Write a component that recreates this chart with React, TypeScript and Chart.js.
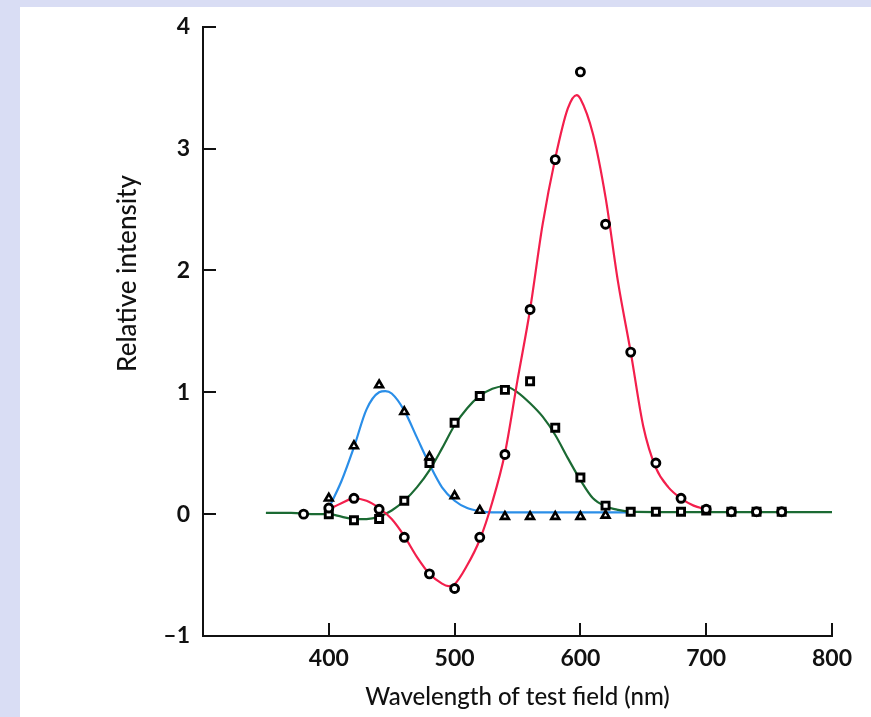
import React, { useEffect, useRef } from 'react';
import { Chart, registerables } from 'chart.js';

Chart.register(...registerables);

// ---- Data ----
// Fitted smooth curves
const CURVE_R_WL = [400, 410, 420, 430, 440, 450, 460, 470, 480, 490, 495, 500, 510, 520, 530, 540, 550, 560, 570, 580, 590, 597, 600, 610, 620, 630, 640, 650, 660, 670, 680, 690, 700];
const CURVE_R = [0.04, 0.09, 0.13, 0.11, 0.05, -0.04, -0.18, -0.35, -0.49, -0.57, -0.59, -0.575, -0.42, -0.21, 0.1, 0.5, 1.1, 1.68, 2.38, 2.92, 3.33, 3.44, 3.41, 3.12, 2.6, 1.9, 1.33, 0.72, 0.38, 0.22, 0.13, 0.07, 0.04];

const CURVE_G_WL = [350, 370, 390, 400, 410, 420, 430, 440, 450, 460, 470, 480, 490, 500, 510, 520, 530, 540, 550, 560, 570, 580, 590, 600, 610, 620, 630, 640, 660, 700, 750, 800];
const CURVE_G = [0.01, 0.01, 0.0, 0.0, -0.02, -0.04, -0.04, -0.02, 0.03, 0.11, 0.22, 0.36, 0.54, 0.73, 0.87, 0.97, 1.03, 1.05, 1.0, 0.91, 0.8, 0.65, 0.46, 0.28, 0.13, 0.065, 0.035, 0.02, 0.017, 0.017, 0.017, 0.017];

const CURVE_B_WL = [400, 410, 420, 430, 440, 445, 450, 460, 470, 480, 490, 500, 510, 520, 530, 550, 600, 640];
const CURVE_B = [0.05, 0.27, 0.55, 0.86, 1.0, 1.01, 0.99, 0.85, 0.63, 0.41, 0.22, 0.11, 0.05, 0.025, 0.015, 0.015, 0.015, 0.015];

// Measured points (markers)
const MARK_WL = [380, 400, 420, 440, 460, 480, 500, 520, 540, 560, 580, 600, 620, 640, 660, 680, 700, 720, 740, 760];
const R_MARK = [0.0, 0.05, 0.13, 0.04, -0.19, -0.49, -0.61, -0.19, 0.49, 1.68, 2.91, 3.63, 2.38, 1.33, 0.42, 0.13, 0.04, 0.02, 0.02, 0.02];
const G_MARK = [null, 0.0, -0.05, -0.04, 0.11, 0.42, 0.75, 0.97, 1.02, 1.09, 0.71, 0.3, 0.07, 0.02, 0.02, 0.02, 0.03, 0.02, 0.02, 0.02];
const B_MARK_WL = [400, 420, 440, 460, 480, 500, 520, 540, 560, 580, 600, 620];
const B_MARK = [0.13, 0.56, 1.06, 0.84, 0.47, 0.15, 0.03, -0.02, -0.02, -0.02, -0.02, -0.01];

// Axes
const X_TICKS = [400, 500, 600, 700, 800];
const Y_TICKS = [-1, 0, 1, 2, 3, 4];
const X_TITLE = 'Wavelength of test field (nm)';
const Y_TITLE = 'Relative intensity';

const toPts = (xs: number[], ys: (number | null)[]) =>
  xs.map((x, i) => ({ x, y: ys[i] })).filter((p) => p.y !== null);

const AXIS_COLOR = '#111111';
const FONT = 'Lato, "Open Sans", sans-serif';

export default function App() {
  const ref = useRef<HTMLCanvasElement | null>(null);

  useEffect(() => {
    if (!ref.current) return;

    const inTicks = {
      id: 'inTicks',
      afterDraw(chart: any) {
        const { ctx, chartArea } = chart;
        const xs = chart.scales.x;
        const ys = chart.scales.y;
        ctx.save();
        ctx.strokeStyle = AXIS_COLOR;
        ctx.lineWidth = 2;
        X_TICKS.forEach((v) => {
          const px = Math.round(xs.getPixelForValue(v));
          ctx.beginPath();
          ctx.moveTo(px, chartArea.bottom);
          ctx.lineTo(px, chartArea.bottom - 13);
          ctx.stroke();
        });
        Y_TICKS.forEach((v) => {
          if (v === -1) return;
          const py = Math.round(ys.getPixelForValue(v));
          ctx.beginPath();
          ctx.moveTo(chartArea.left, py);
          ctx.lineTo(chartArea.left + 13, py);
          ctx.stroke();
        });
        // y-axis title, centred on the positive part of the scale
        const cy = (ys.getPixelForValue(0) + ys.getPixelForValue(4)) / 2 + 3;
        ctx.translate(chartArea.left - 75, cy);
        ctx.rotate(-Math.PI / 2);
        ctx.fillStyle = AXIS_COLOR;
        ctx.font = `500 26px ${FONT}`;
        ctx.textAlign = 'center';
        ctx.textBaseline = 'middle';
        ctx.fillText(Y_TITLE, 0, 0);
        ctx.restore();
      },
    };

    const markerBase = {
      showLine: false,
      borderColor: '#000',
      backgroundColor: '#fff',
      pointBorderColor: '#000',
      pointBackgroundColor: '#fff',
      pointBorderWidth: 2.9,
      order: 1,
    };

    const chart = new Chart(ref.current, {
      type: 'line',
      data: {
        datasets: [
          {
            label: 'r curve',
            data: toPts(CURVE_R_WL, CURVE_R),
            borderColor: '#f31f4c',
            borderWidth: 2.2,
            pointRadius: 0,
            cubicInterpolationMode: 'monotone',
            order: 2,
          },
          {
            label: 'g curve',
            data: toPts(CURVE_G_WL, CURVE_G),
            borderColor: '#1b6a33',
            borderWidth: 2.2,
            pointRadius: 0,
            cubicInterpolationMode: 'monotone',
            order: 3,
          },
          {
            label: 'b curve',
            data: toPts(CURVE_B_WL, CURVE_B),
            borderColor: '#2a8ee8',
            borderWidth: 2.2,
            pointRadius: 0,
            cubicInterpolationMode: 'monotone',
            order: 4,
          },
          {
            ...markerBase,
            label: 'r points',
            data: toPts(MARK_WL, R_MARK),
            pointStyle: 'circle',
            pointRadius: 4.0,
          },
          {
            ...markerBase,
            label: 'g points',
            data: toPts(MARK_WL, G_MARK),
            pointStyle: 'rect',
            pointRadius: 5.0,
          },
          {
            ...markerBase,
            label: 'b points',
            data: toPts(B_MARK_WL, B_MARK),
            pointStyle: 'triangle',
            pointRadius: 4.5,
            pointBorderWidth: 2.6,
          },
        ] as any,
      },
      options: {
        animation: false,
        responsive: false,
        maintainAspectRatio: false,
        events: [],
        layout: { padding: { top: 25, right: 39, left: 0, bottom: 0 } },
        plugins: {
          legend: { display: false },
          tooltip: { enabled: false },
        },
        scales: {
          x: {
            type: 'linear',
            min: 300,
            max: 800,
            afterBuildTicks: (scale: any) => {
              scale.ticks = X_TICKS.map((v) => ({ value: v }));
            },
            afterFit: (scale: any) => {
              scale.height = 81;
            },
            grid: { display: false, drawTicks: false },
            border: { display: true, color: AXIS_COLOR, width: 2 },
            ticks: {
              padding: 9,
              color: AXIS_COLOR,
              font: { family: FONT, size: 23, weight: 'bold' },
              maxRotation: 0,
              autoSkip: false,
            },
            title: {
              display: true,
              text: X_TITLE,
              color: AXIS_COLOR,
              font: { family: FONT, size: 24, weight: '500' },
              padding: { top: 0, bottom: 5 },
            },
          },
          y: {
            type: 'linear',
            min: -1,
            max: 4,
            afterBuildTicks: (scale: any) => {
              scale.ticks = Y_TICKS.map((v) => ({ value: v }));
            },
            afterFit: (scale: any) => {
              scale.width = 203;
            },
            grid: { display: false, drawTicks: false },
            border: { display: true, color: AXIS_COLOR, width: 2 },
            ticks: {
              padding: 13,
              color: AXIS_COLOR,
              font: { family: FONT, size: 23, weight: 'bold' },
              callback: (v: any) => (Number(v) < 0 ? '\u2013' + Math.abs(Number(v)) : String(v)),
            },
          },
        },
      } as any,
      plugins: [inTicks],
    });

    return () => chart.destroy();
  }, []);

  return (
    <div style={{ position: 'fixed', left: 0, top: 0, width: 871, height: 717, background: '#d9ddf4', overflow: 'hidden' }}>
      <div style={{ position: 'absolute', left: 20, top: 7, right: 0, bottom: 0, background: '#ffffff' }} />
      <canvas ref={ref} width={871} height={717} style={{ position: 'absolute', left: 0, top: 0, width: 871, height: 717 }} />
    </div>
  );
}
